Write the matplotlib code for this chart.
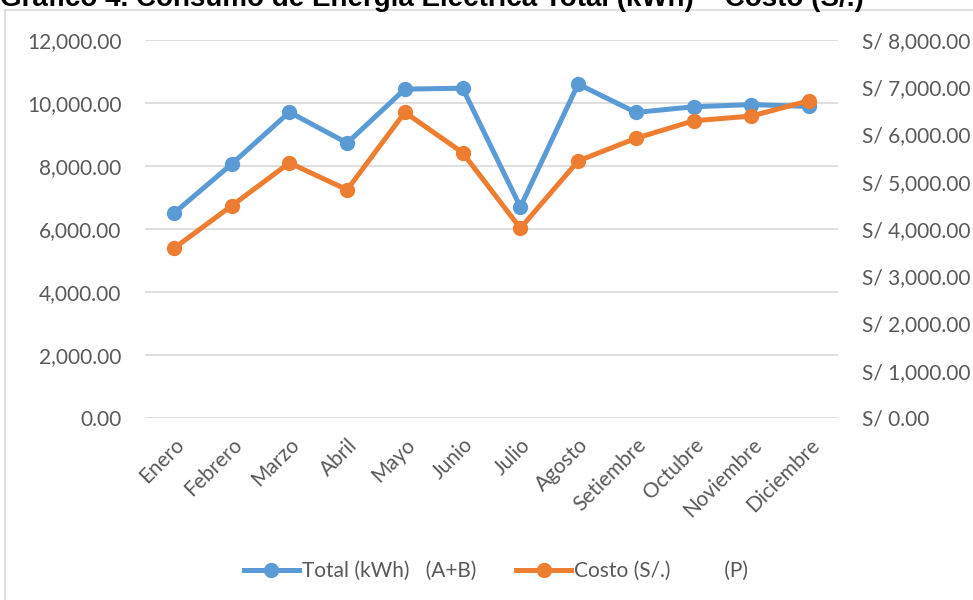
import matplotlib
matplotlib.use("Agg")
import matplotlib.pyplot as plt
from matplotlib.patches import Rectangle
from matplotlib.ticker import FuncFormatter

months = ["Enero", "Febrero", "Marzo", "Abril", "Mayo", "Junio", "Julio",
          "Agosto", "Setiembre", "Octubre", "Noviembre", "Diciembre"]
total_kwh = [6500, 8060, 9710, 8730, 10440, 10470, 6700, 10600, 9700, 9880, 9950, 9890]
costo_soles = [3590, 4490, 5400, 4830, 6470, 5615, 4015, 5440, 5920, 6290, 6390, 6715]

title = "Gráfico 4. Consumo de Energía Eléctrica Total (kWh) – Costo (S/.)"
label_total = "Total (kWh)   (A+B)"
label_costo = "Costo (S/.)          (P)"

BLUE = "#5B9BD5"
ORANGE = "#ED7D31"
GRID = "#D9D9D9"
TXT = "#595959"
FONT = ["Lato", "DejaVu Sans"]
FS = 15

plt.rcParams['font.family'] = FONT

W, H = 973, 600
fig = plt.figure(figsize=(W / 100, H / 100), dpi=100)

# chart border
fig.patches.append(Rectangle((5 / W, -0.1), 1.2, 1 - 10 / H + 0.1, transform=fig.transFigure,
                             fill=False, edgecolor=GRID, linewidth=1.2))

fig.text(0 / W, 1 - 6 / H, title, fontsize=20, fontweight='bold',
         family=["Liberation Sans", "DejaVu Sans"], va='baseline', ha='left', color='black')

ax = fig.add_axes([145 / W, 1 - 418 / H, (838 - 145) / W, (418 - 40) / H])
ax2 = ax.twinx()

x = list(range(len(months)))
l1, = ax.plot(x, total_kwh, color=BLUE, lw=3.6, marker='o', ms=10, label=label_total,
              solid_joinstyle='round', zorder=3)
l2, = ax2.plot(x, costo_soles, color=ORANGE, lw=3.6, marker='o', ms=10, label=label_costo,
               solid_joinstyle='round', zorder=3)

ax.set_xlim(-0.5, len(months) - 0.5)
ax.set_ylim(0, 12000)
ax2.set_ylim(0, 8000)
ax.set_yticks(range(0, 12001, 2000))
ax2.set_yticks(range(0, 8001, 1000))
ax.yaxis.set_major_formatter(FuncFormatter(lambda v, p: f"{v:,.2f}"))
ax2.yaxis.set_major_formatter(FuncFormatter(lambda v, p: f"S/ {v:,.2f}"))

ax.grid(axis='y', color=GRID, lw=1.2)
ax.set_axisbelow(True)
for a in (ax, ax2):
    for s in a.spines.values():
        s.set_visible(False)
ax.tick_params(axis='y', length=0, pad=17, labelsize=FS, labelcolor=TXT)
ax2.tick_params(axis='y', length=0, pad=17, labelsize=FS, labelcolor=TXT)
ax.set_xticks(x)
ax.set_xticklabels(months, rotation=45, ha='right', rotation_mode='anchor')
ax.tick_params(axis='x', length=0, pad=12, labelsize=FS, labelcolor=TXT)

fig.legend(handles=[l1, l2], loc='center', bbox_to_anchor=(496 / W, 1 - 571 / H),
           ncol=2, frameon=False, fontsize=FS, labelcolor=TXT, handlelength=2.65,
           columnspacing=1.9, handletextpad=0.15)

fig.savefig("out.png", dpi=100)
